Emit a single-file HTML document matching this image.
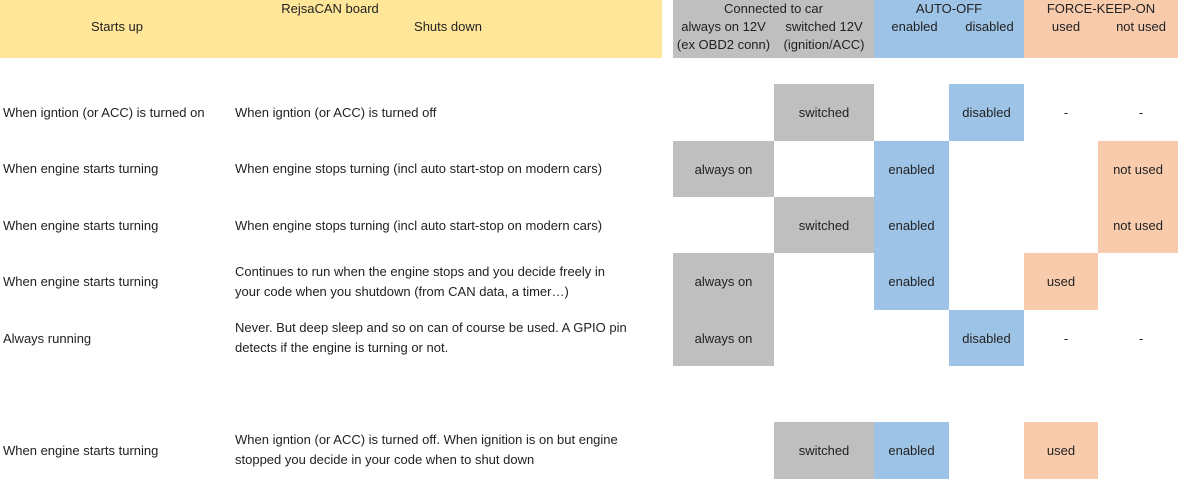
<!DOCTYPE html>
<html><head><meta charset="utf-8"><style>
body{margin:0;width:1178px;height:479px;position:relative;background:#fff;font-family:"Liberation Sans",sans-serif;font-size:13px;color:#222;overflow:hidden}
.b{position:absolute}
.t{position:absolute;white-space:nowrap;line-height:20px}
.c{position:absolute;display:flex;align-items:center;justify-content:center;white-space:nowrap}
.g{background:#bfbfbf}.bl{background:#9dc3e6}.s{background:#f8cbad}.y{background:#ffe699}
</style></head><body>
<div class="b y" style="left:0;top:0;width:662px;height:58px"></div>
<div class="b g" style="left:673px;top:0;width:201px;height:58px"></div>
<div class="b bl" style="left:874px;top:0;width:150px;height:58px"></div>
<div class="b s" style="left:1024px;top:0;width:154px;height:58px"></div>
<div class="c" style="left:230px;top:0;width:200px;height:17px">RejsaCAN board</div>
<div class="c" style="left:17px;top:17px;width:200px;height:18px">Starts up</div>
<div class="c" style="left:348px;top:17px;width:200px;height:18px">Shuts down</div>
<div class="c" style="left:673px;top:0;width:201px;height:17px">Connected to car</div>
<div class="c" style="left:673px;top:17px;width:101px;height:18px">always on 12V</div>
<div class="c" style="left:774px;top:17px;width:100px;height:18px">switched 12V</div>
<div class="c" style="left:673px;top:35px;width:101px;height:18px">(ex OBD2 conn)</div>
<div class="c" style="left:774px;top:35px;width:100px;height:18px">(ignition/ACC)</div>
<div class="c" style="left:874px;top:0;width:150px;height:17px">AUTO-OFF</div>
<div class="c" style="left:874px;top:17px;width:81px;height:18px">enabled</div>
<div class="c" style="left:949px;top:17px;width:81px;height:18px">disabled</div>
<div class="c" style="left:1024px;top:0;width:154px;height:17px">FORCE-KEEP-ON</div>
<div class="c" style="left:1028px;top:17px;width:76px;height:18px">used</div>
<div class="c" style="left:1101px;top:17px;width:80px;height:18px">not used</div>

<div class="t" style="left:3px;top:103px">When igntion (or ACC) is turned on</div>
<div class="t" style="left:235px;top:103px">When igntion (or ACC) is turned off</div>
<div class="c g" style="left:774px;top:84px;width:100px;height:57px">switched</div>
<div class="c bl" style="left:949px;top:84px;width:75px;height:57px">disabled</div>
<div class="c" style="left:1028px;top:84px;width:76px;height:57px">-</div>
<div class="c" style="left:1101px;top:84px;width:80px;height:57px">-</div>

<div class="t" style="left:3px;top:159px">When engine starts turning</div>
<div class="t" style="left:235px;top:159px">When engine stops turning (incl auto start-stop on modern cars)</div>
<div class="c g" style="left:673px;top:141px;width:101px;height:56px">always on</div>
<div class="c bl" style="left:874px;top:141px;width:75px;height:56px">enabled</div>
<div class="c s" style="left:1098px;top:141px;width:80px;height:56px">not used</div>

<div class="t" style="left:3px;top:216px">When engine starts turning</div>
<div class="t" style="left:235px;top:216px">When engine stops turning (incl auto start-stop on modern cars)</div>
<div class="c g" style="left:774px;top:197px;width:100px;height:56px">switched</div>
<div class="c bl" style="left:874px;top:197px;width:75px;height:56px">enabled</div>
<div class="c s" style="left:1098px;top:197px;width:80px;height:56px">not used</div>

<div class="t" style="left:3px;top:272px">When engine starts turning</div>
<div class="t" style="left:235px;top:262px">Continues to run when the engine stops and you decide freely in<br>your code when you shutdown (from CAN data, a timer…)</div>
<div class="c g" style="left:673px;top:253px;width:101px;height:57px">always on</div>
<div class="c bl" style="left:874px;top:253px;width:75px;height:57px">enabled</div>
<div class="c s" style="left:1024px;top:253px;width:74px;height:57px">used</div>

<div class="t" style="left:3px;top:329px">Always running</div>
<div class="t" style="left:235px;top:318px">Never. But deep sleep and so on can of course be used. A GPIO pin<br>detects if the engine is turning or not.</div>
<div class="c g" style="left:673px;top:310px;width:101px;height:56px">always on</div>
<div class="c bl" style="left:949px;top:310px;width:75px;height:56px">disabled</div>
<div class="c" style="left:1028px;top:310px;width:76px;height:56px">-</div>
<div class="c" style="left:1101px;top:310px;width:80px;height:56px">-</div>

<div class="t" style="left:3px;top:441px">When engine starts turning</div>
<div class="t" style="left:235px;top:430px">When igntion (or ACC) is turned off. When ignition is on but engine<br>stopped you decide in your code when to shut down</div>
<div class="c g" style="left:774px;top:422px;width:100px;height:57px">switched</div>
<div class="c bl" style="left:874px;top:422px;width:75px;height:57px">enabled</div>
<div class="c s" style="left:1024px;top:422px;width:74px;height:57px">used</div>
</body></html>
